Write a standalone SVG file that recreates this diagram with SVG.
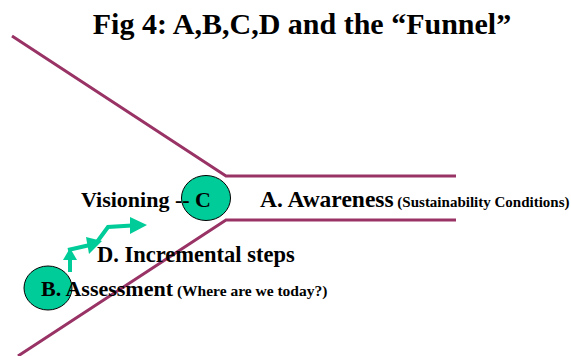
<svg xmlns="http://www.w3.org/2000/svg" width="571" height="356" viewBox="0 0 571 356">
<style>
.t{font-family:"Liberation Serif","Times New Roman",serif;font-weight:bold;fill:#000}
.funnel{fill:none;stroke:#993366;stroke-width:3}
.node{fill:#00CC99;stroke:#000;stroke-width:1}
.arr{fill:none;stroke:#00CC99;stroke-width:4;stroke-linejoin:miter}
.head{fill:#00CC99;stroke:none}
</style>
<rect width="571" height="356" fill="#fff"/>
<text class="t" x="302" y="34" font-size="30" text-anchor="middle">Fig 4: A,B,C,D and the “Funnel”</text>
<g id="funnel">
<polyline class="funnel" points="12,36 226,176 456,176"/>
<polyline class="funnel" points="18,356 226,220 456,220"/>
</g>
<g id="connectors">
<line class="arr" x1="70" y1="272" x2="70" y2="257"/>
<polygon class="head" points="63,260 77,260 70,248"/>
<line class="arr" x1="68" y1="250" x2="90" y2="245"/>
<polygon class="head" points="86,237 102,241 89,254"/>
<polyline class="arr" points="97,242 108,227 132,225.5"/>
<polygon class="head" points="130,217 147,225 130,234"/>
</g>
<g id="node-c">
<ellipse class="node" cx="206" cy="198" rx="24.5" ry="22.5"/>
<text class="t" x="81" y="207" font-size="22">Visioning -- C</text>
</g>
<g id="node-a">
<text class="t" x="260" y="207"><tspan font-size="23.5">A. Awareness</tspan><tspan font-size="15"> (Sustainability Conditions)</tspan></text>
</g>
<g id="node-d">
<text class="t" x="97" y="262" font-size="22.5">D. Incremental steps</text>
</g>
<g id="node-b">
<ellipse class="node" cx="48" cy="288" rx="24" ry="22"/>
<text class="t" x="41" y="296"><tspan font-size="22">B. Assessment</tspan><tspan font-size="15.5"> (Where are we today?)</tspan></text>
</g>
</svg>
